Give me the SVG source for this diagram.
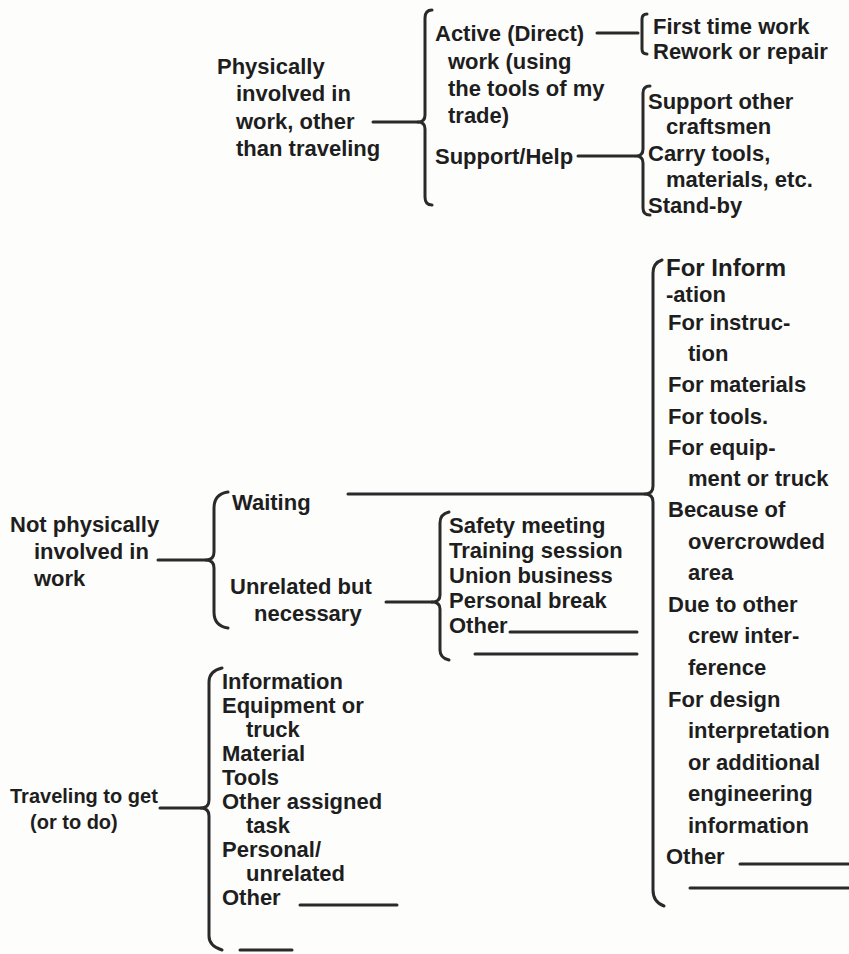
<svg xmlns="http://www.w3.org/2000/svg" width="849" height="954" viewBox="0 0 849 954">
<style>
text{font-family:"Liberation Sans","Open Sans",sans-serif;font-weight:bold;font-size:22px;fill:#1e1e1e}
text.hand{font-size:24px}
text.s{font-size:20px}
.c{fill:none;stroke:#2a2a2a;stroke-width:3;stroke-linecap:round;stroke-linejoin:round}
</style>
<rect width="849" height="954" fill="#fdfdfc"/>
<g id="connectors" class="c">
  <path d="M373 122H418"/>
  <path d="M432 10Q425 10 425 18V115Q425 122 418 122Q425 122 425 129V197Q425 205 432 205"/>
  <path d="M597 33H638"/>
  <path d="M647 14Q642 14 642 19V33V49Q642 54 647 54"/>
  <path d="M578 156H635"/>
  <path d="M650 86Q643 86 643 93V149Q643 156 636 156Q643 156 643 163V208Q643 215 650 215"/>
  <path d="M158 560H206"/>
  <path d="M228 492Q214 494 214 508V552Q214 560 206 560Q214 560 214 568V612Q214 626 228 628"/>
  <path d="M348 494H645"/>
  <path d="M386 602H432"/>
  <path d="M449 512Q440 514 440 523V595Q440 602 432 602Q440 602 440 609V650Q440 658 449 660"/>
  <path d="M510 632H637"/>
  <path d="M475 654H637"/>
  <path d="M662 260Q653 263 653 273V486Q653 494 645 494Q653 494 653 502V890Q653 902 664 906"/>
  <path d="M740 864H849"/>
  <path d="M690 888H849"/>
  <path d="M160 808H201"/>
  <path d="M222 668Q209 671 209 682V800Q209 808 201 808Q209 808 209 816V936Q209 946 222 950"/>
  <path d="M300 905H397"/>
  <path d="M240 950H292"/>
</g>
<g id="physically">
  <text x="217" y="74">Physically</text>
  <text x="236" y="101">involved in</text>
  <text x="236" y="129">work, other</text>
  <text x="236" y="156">than traveling</text>
</g>
<g id="active">
  <text x="435" y="41">Active (Direct)</text>
  <text x="448" y="69">work (using</text>
  <text x="448" y="96">the tools of my</text>
  <text x="448" y="123">trade)</text>
</g>
<g id="support"><text x="435" y="164">Support/Help</text></g>
<g id="active-items">
  <text x="653" y="34">First time work</text>
  <text x="653" y="59">Rework or repair</text>
</g>
<g id="support-items">
  <text x="648" y="109">Support other</text>
  <text x="666" y="134">craftsmen</text>
  <text x="648" y="161">Carry tools,</text>
  <text x="666" y="187">materials, etc.</text>
  <text x="648" y="213">Stand-by</text>
</g>
<g id="not-physically">
  <text x="10" y="532">Not physically</text>
  <text x="34" y="559">involved in</text>
  <text x="34" y="586">work</text>
</g>
<g id="waiting"><text x="232" y="510">Waiting</text></g>
<g id="unrelated">
  <text x="230" y="594">Unrelated but</text>
  <text x="254" y="621">necessary</text>
</g>
<g id="unrelated-items">
  <text x="449" y="533">Safety meeting</text>
  <text x="449" y="558">Training session</text>
  <text x="449" y="583">Union business</text>
  <text x="449" y="608">Personal break</text>
  <text x="449" y="633">Other</text>
</g>
<g id="waiting-items">
  <text class="hand" x="666" y="276">For Inform</text>
  <text x="666" y="302">-ation</text>
  <text x="668" y="330">For instruc-</text>
  <text x="688" y="361">tion</text>
  <text x="668" y="392">For materials</text>
  <text x="668" y="424">For tools.</text>
  <text x="668" y="455">For equip-</text>
  <text x="688" y="486">ment or truck</text>
  <text x="668" y="517">Because of</text>
  <text x="688" y="549">overcrowded</text>
  <text x="688" y="580">area</text>
  <text x="668" y="612">Due to other</text>
  <text x="688" y="643">crew inter-</text>
  <text x="688" y="675">ference</text>
  <text x="668" y="707">For design</text>
  <text x="688" y="738">interpretation</text>
  <text x="688" y="770">or additional</text>
  <text x="688" y="801">engineering</text>
  <text x="688" y="833">information</text>
  <text x="666" y="864">Other</text>
</g>
<g id="traveling">
  <text class="s" x="10" y="803">Traveling to get</text>
  <text class="s" x="30" y="829">(or to do)</text>
</g>
<g id="traveling-items">
  <text x="222" y="689">Information</text>
  <text x="222" y="713">Equipment or</text>
  <text x="246" y="737">truck</text>
  <text x="222" y="761">Material</text>
  <text x="222" y="785">Tools</text>
  <text x="222" y="809">Other assigned</text>
  <text x="246" y="833">task</text>
  <text x="222" y="857">Personal/</text>
  <text x="246" y="881">unrelated</text>
  <text x="222" y="905">Other</text>
</g>
</svg>
